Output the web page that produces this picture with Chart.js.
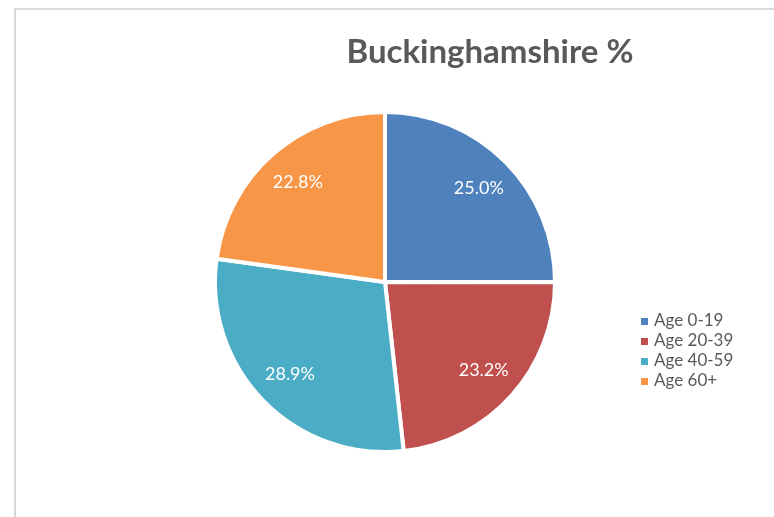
<!DOCTYPE html>
<html>
<head>
<meta charset="utf-8">
<script src="https://cdn.jsdelivr.net/npm/chart.js@4.4.0/dist/chart.umd.min.js"></script>
<style>
  body { margin: 0; background: #fff; width: 774px; height: 517px; overflow: hidden; position: relative; font-family: Lato, "Liberation Sans", sans-serif; }
  #frame { position: absolute; left: 14px; top: 8px; width: 800px; height: 600px; border: 2px solid #d9d9d9; }
  #chart { position: absolute; left: 0; top: 0; }
  #title { position: absolute; left: 290px; width: 400px; top: 34px; text-align: center; font-weight: bold; font-size: 33px; line-height: 33px; color: #595959; }
  #legend { position: absolute; left: 641px; top: 310px; font-size: 17px; color: #595959; }
  #legend .row { height: 20px; line-height: 20px; white-space: nowrap; }
  #legend .box { display: inline-block; width: 7px; height: 7px; margin-right: 6px; vertical-align: 1px; }
</style>
</head>
<body>
<div id="frame"></div>
<canvas id="chart" width="774" height="517"></canvas>
<div id="title"></div>
<div id="legend"></div>
<script>
// Datos del gráfico
const chartTitle = "Buckinghamshire %";
const categories = ["Age 0-19", "Age 20-39", "Age 40-59", "Age 60+"];
const values = [25.0, 23.2, 28.9, 22.8];
const colors = ["#4F81BD", "#C0504D", "#4BACC6", "#F79646"];

// Título
document.getElementById("title").textContent = chartTitle;

// Leyenda en HTML
const legend = document.getElementById("legend");
categories.forEach((cat, i) => {
    const row = document.createElement("div");
    row.className = "row";
    const box = document.createElement("span");
    box.className = "box";
    box.style.background = colors[i];
    row.appendChild(box);
    row.appendChild(document.createTextNode(cat));
    legend.appendChild(row);
});

// Etiquetas de porcentaje dentro de cada sector
const pieLabels = {
    id: "pieLabels",
    afterDatasetsDraw(chart) {
        const ctx = chart.ctx;
        const meta = chart.getDatasetMeta(0);
        ctx.save();
        ctx.fillStyle = "#ffffff";
        ctx.font = "18px Lato, 'Liberation Sans', sans-serif";
        ctx.textAlign = "center";
        ctx.textBaseline = "middle";
        meta.data.forEach((arc, i) => {
            const mid = (arc.startAngle + arc.endAngle) / 2;
            const r = arc.outerRadius * 0.78;
            const x = arc.x + Math.cos(mid) * r;
            const y = arc.y + Math.sin(mid) * r;
            ctx.fillText(values[i].toFixed(1) + "%", x, y);
        });
        ctx.restore();
    }
};

const ctx = document.getElementById("chart").getContext("2d");
new Chart(ctx, {
    type: "pie",
    data: {
        labels: categories,
        datasets: [{
            data: values,
            backgroundColor: colors,
            borderColor: "#ffffff",
            borderWidth: 4
        }]
    },
    options: {
        responsive: false,
        animation: false,
        layout: { padding: { left: 213, right: 217, top: 110, bottom: 63 } },
        plugins: {
            legend: { display: false },
            title: { display: false },
            tooltip: { enabled: false }
        }
    },
    plugins: [pieLabels]
});
</script>
</body>
</html>
